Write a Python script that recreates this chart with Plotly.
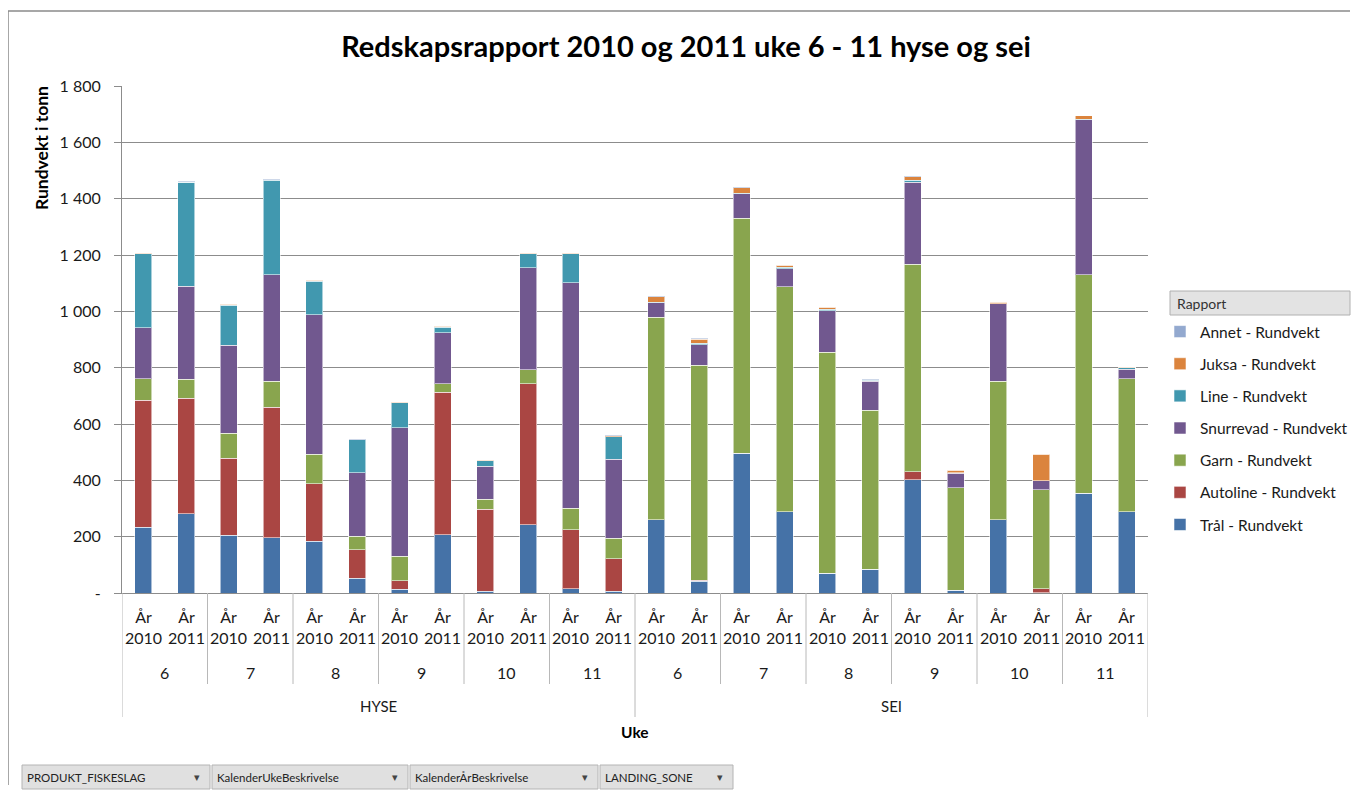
import plotly.graph_objects as go

# ---------------- data ----------------
products = ["HYSE"] * 12 + ["SEI"] * 12
weeks = [6, 6, 7, 7, 8, 8, 9, 9, 10, 10, 11, 11] * 2
years = [2010, 2011] * 12

tral = [233, 282, 205, 196, 183, 52, 13, 206, 6, 243, 15, 7,
        260, 41, 497, 288, 71, 84, 402, 9, 260, 1, 355, 288]
autoline = [452, 409, 274, 464, 205, 101, 30, 506, 291, 500, 210, 114,
            0, 4, 0, 0, 0, 0, 28, 0, 0, 14, 0, 0]
garn = [76, 68, 88, 91, 105, 48, 87, 31, 36, 49, 76, 73,
        719, 763, 833, 800, 783, 564, 737, 364, 491, 352, 775, 472]
snurrevad = [181, 330, 312, 379, 495, 226, 456, 181, 117, 362, 800, 281,
             51, 74, 87, 63, 148, 103, 292, 53, 276, 31, 550, 35]
line = [263, 370, 142, 335, 118, 117, 89, 19, 19, 51, 103, 80,
        3, 4, 3, 5, 5, 4, 7, 1, 0, 0, 2, 5]
juksa = [1, 0, 4, 3, 4, 0, 3, 4, 3, 2, 2, 4,
         18, 15, 18, 7, 7, 3, 12, 9, 5, 95, 12, 2]
annet = [1, 2, 2, 1, 1, 2, 1, 1, 1, 1, 1, 1,
         2, 3, 2, 1, 1, 1, 1, 1, 1, 0, 1, 1]

series_names = ["Trål - Rundvekt", "Autoline - Rundvekt", "Garn - Rundvekt",
                "Snurrevad - Rundvekt", "Line - Rundvekt", "Juksa - Rundvekt",
                "Annet - Rundvekt"]
series_values = [tral, autoline, garn, snurrevad, line, juksa, annet]
series_colors = ["#4572A7", "#AA4643", "#89A54E", "#71588F", "#4198AF",
                 "#DB843D", "#93A9CF"]

ytick_vals = [0, 200, 400, 600, 800, 1000, 1200, 1400, 1600, 1800]
ytick_text = ["-", "200", "400", "600", "800", "1 000", "1 200", "1 400",
              "1 600", "1 800"]

filter_buttons = ["PRODUKT_FISKESLAG", "KalenderUkeBeskrivelse",
                  "KalenderÅrBeskrivelse", "LANDING_SONE"]

title_text = "Redskapsrapport 2010 og 2011 uke 6 - 11 hyse og sei"

# ---------------- layout geometry (page pixel coords) ----------------
PAGE_W, PAGE_H = 1359, 793
OX, OY = 8, 8                      # body margin of the html page
W, H = PAGE_W - OX, PAGE_H - OY    # figure size
L, R, T, B = 122, 1148, 86, 593    # plot area in page coords
PW, PH = R - L, B - T
FONT = "Lato"


def px(xp):
    return (xp - L) / PW


def py(yp):
    return (B - yp) / PH


xidx = list(range(len(products)))

fig = go.Figure()
n = len(series_names)
for k, (name, vals, col) in enumerate(zip(series_names, series_values, series_colors)):
    fig.add_trace(go.Bar(
        x=xidx, y=vals, name=name, legendgroup=name, legendrank=n - k,
        marker=dict(color=col, line=dict(color="rgba(255,255,255,0.55)", width=1)),
        width=0.4,
    ))

annotations = []
shapes = []

# year labels
for i, yr in enumerate(years):
    annotations.append(dict(x=i, y=0, xref="x", yref="paper", yshift=-34,
                            text=f"År<br>{yr}", showarrow=False,
                            font=dict(family=FONT, size=16, color="#1a1a1a"),
                            yanchor="middle", xanchor="center"))
# week labels
for g in range(12):
    annotations.append(dict(x=2 * g + 0.5, y=0, xref="x", yref="paper", yshift=-(672 - B),
                            text=str(weeks[2 * g]), showarrow=False,
                            font=dict(family=FONT, size=16, color="#1a1a1a"),
                            yanchor="middle", xanchor="center"))
# product labels
for p, start in (("HYSE", 0), ("SEI", 12)):
    annotations.append(dict(x=start + 5.5, y=0, xref="x", yref="paper", yshift=-(706 - B),
                            text=p, showarrow=False,
                            font=dict(family=FONT, size=15, color="#1a1a1a"),
                            yanchor="middle", xanchor="center"))
# axis titles
annotations.append(dict(x=px(635), y=py(732), xref="paper", yref="paper",
                        text="<b>Uke</b>", showarrow=False,
                        font=dict(family=FONT, size=15.5, color="#000"),
                        yanchor="middle", xanchor="center"))
annotations.append(dict(x=px(42), y=py(148), xref="paper", yref="paper",
                        text="<b>Rundvekt i tonn</b>", showarrow=False, textangle=-90,
                        font=dict(family=FONT, size=17.5, color="#000"),
                        yanchor="middle", xanchor="center"))

# separators in category label area
for k in range(13):
    xv = -0.5 + 2 * k
    long = k in (0, 6, 12)
    shapes.append(dict(type="line", xref="x", yref="paper", x0=xv, x1=xv,
                       y0=0, y1=py(717 if long else 684),
                       line=dict(color="#b8b8b8", width=1)))

# legend header box
shapes.append(dict(type="rect", xref="paper", yref="paper",
                   x0=px(1170), x1=px(1350), y0=py(291), y1=py(315),
                   fillcolor="#e3e3e3", line=dict(color="#b0b0b0", width=1)))
annotations.append(dict(x=px(1175), y=py(303), xref="paper", yref="paper",
                        text="Rapport", showarrow=False, xanchor="left", yanchor="middle",
                        font=dict(family=FONT, size=14, color="#333")))

# filter buttons
btn_x = [(22, 210), (212, 408), (410, 598), (600, 733)]
for (x0, x1), txt in zip(btn_x, filter_buttons):
    shapes.append(dict(type="rect", xref="paper", yref="paper",
                       x0=px(x0), x1=px(x1), y0=py(765), y1=py(789),
                       fillcolor="#e0e0e0", line=dict(color="#b4b4b4", width=1)))
    annotations.append(dict(x=px(x0 + 3), y=py(777), xref="paper", yref="paper",
                            text=txt, showarrow=False, xanchor="left", yanchor="middle",
                            font=dict(family=FONT, size=11.5, color="#222")))
    annotations.append(dict(x=px(x1 - 8), y=py(777), xref="paper", yref="paper",
                            text="▾", showarrow=False, xanchor="right", yanchor="middle",
                            font=dict(family="DejaVu Sans", size=11, color="#444")))

# outer border (top & left)
shapes.append(dict(type="line", xref="paper", yref="paper", x0=px(8), x1=px(1350),
                   y0=py(11), y1=py(11), line=dict(color="#8a8a8a", width=1.5)))
shapes.append(dict(type="line", xref="paper", yref="paper", x0=px(8), x1=px(8),
                   y0=py(11), y1=py(PAGE_H - 8), line=dict(color="#8a8a8a", width=1.5)))

fig.update_layout(
    width=W, height=H,
    margin=dict(l=L - OX, r=(W + OX) - R, t=T - OY, b=(H + OY) - B, autoexpand=False),
    barmode="stack",
    paper_bgcolor="white", plot_bgcolor="white",
    font=dict(family=FONT, color="#000"),
    title=dict(text=f"<b>{title_text}</b>", x=(686 - OX) / W, xref="container",
               xanchor="center", y=1 - (47 - OY) / H, yref="container", yanchor="middle",
               font=dict(family=FONT, size=29, color="#000")),
    xaxis=dict(range=[-0.5, 23.5], showticklabels=False, showgrid=False, zeroline=False,
               showline=True, linecolor="#8c8c8c", linewidth=1, ticks=""),
    yaxis=dict(range=[0, 1800], tickvals=ytick_vals, ticktext=ytick_text,
               showgrid=True, gridcolor="#8c8c8c", gridwidth=1, zeroline=False,
               showline=True, linecolor="#8c8c8c", linewidth=1,
               ticks="outside", ticklen=7, tickcolor="#8c8c8c",
               ticklabelstandoff=10,
               tickfont=dict(family=FONT, size=16, color="#1a1a1a")),
    legend=dict(x=px(1160), xanchor="left", y=py(315), yanchor="top",
                traceorder="grouped", tracegroupgap=9,
                font=dict(family=FONT, size=15.5, color="#1a1a1a"),
                bgcolor="rgba(0,0,0,0)"),
    annotations=annotations,
    shapes=shapes,
    bargap=0.6,
)

fig.write_html("out.html")
